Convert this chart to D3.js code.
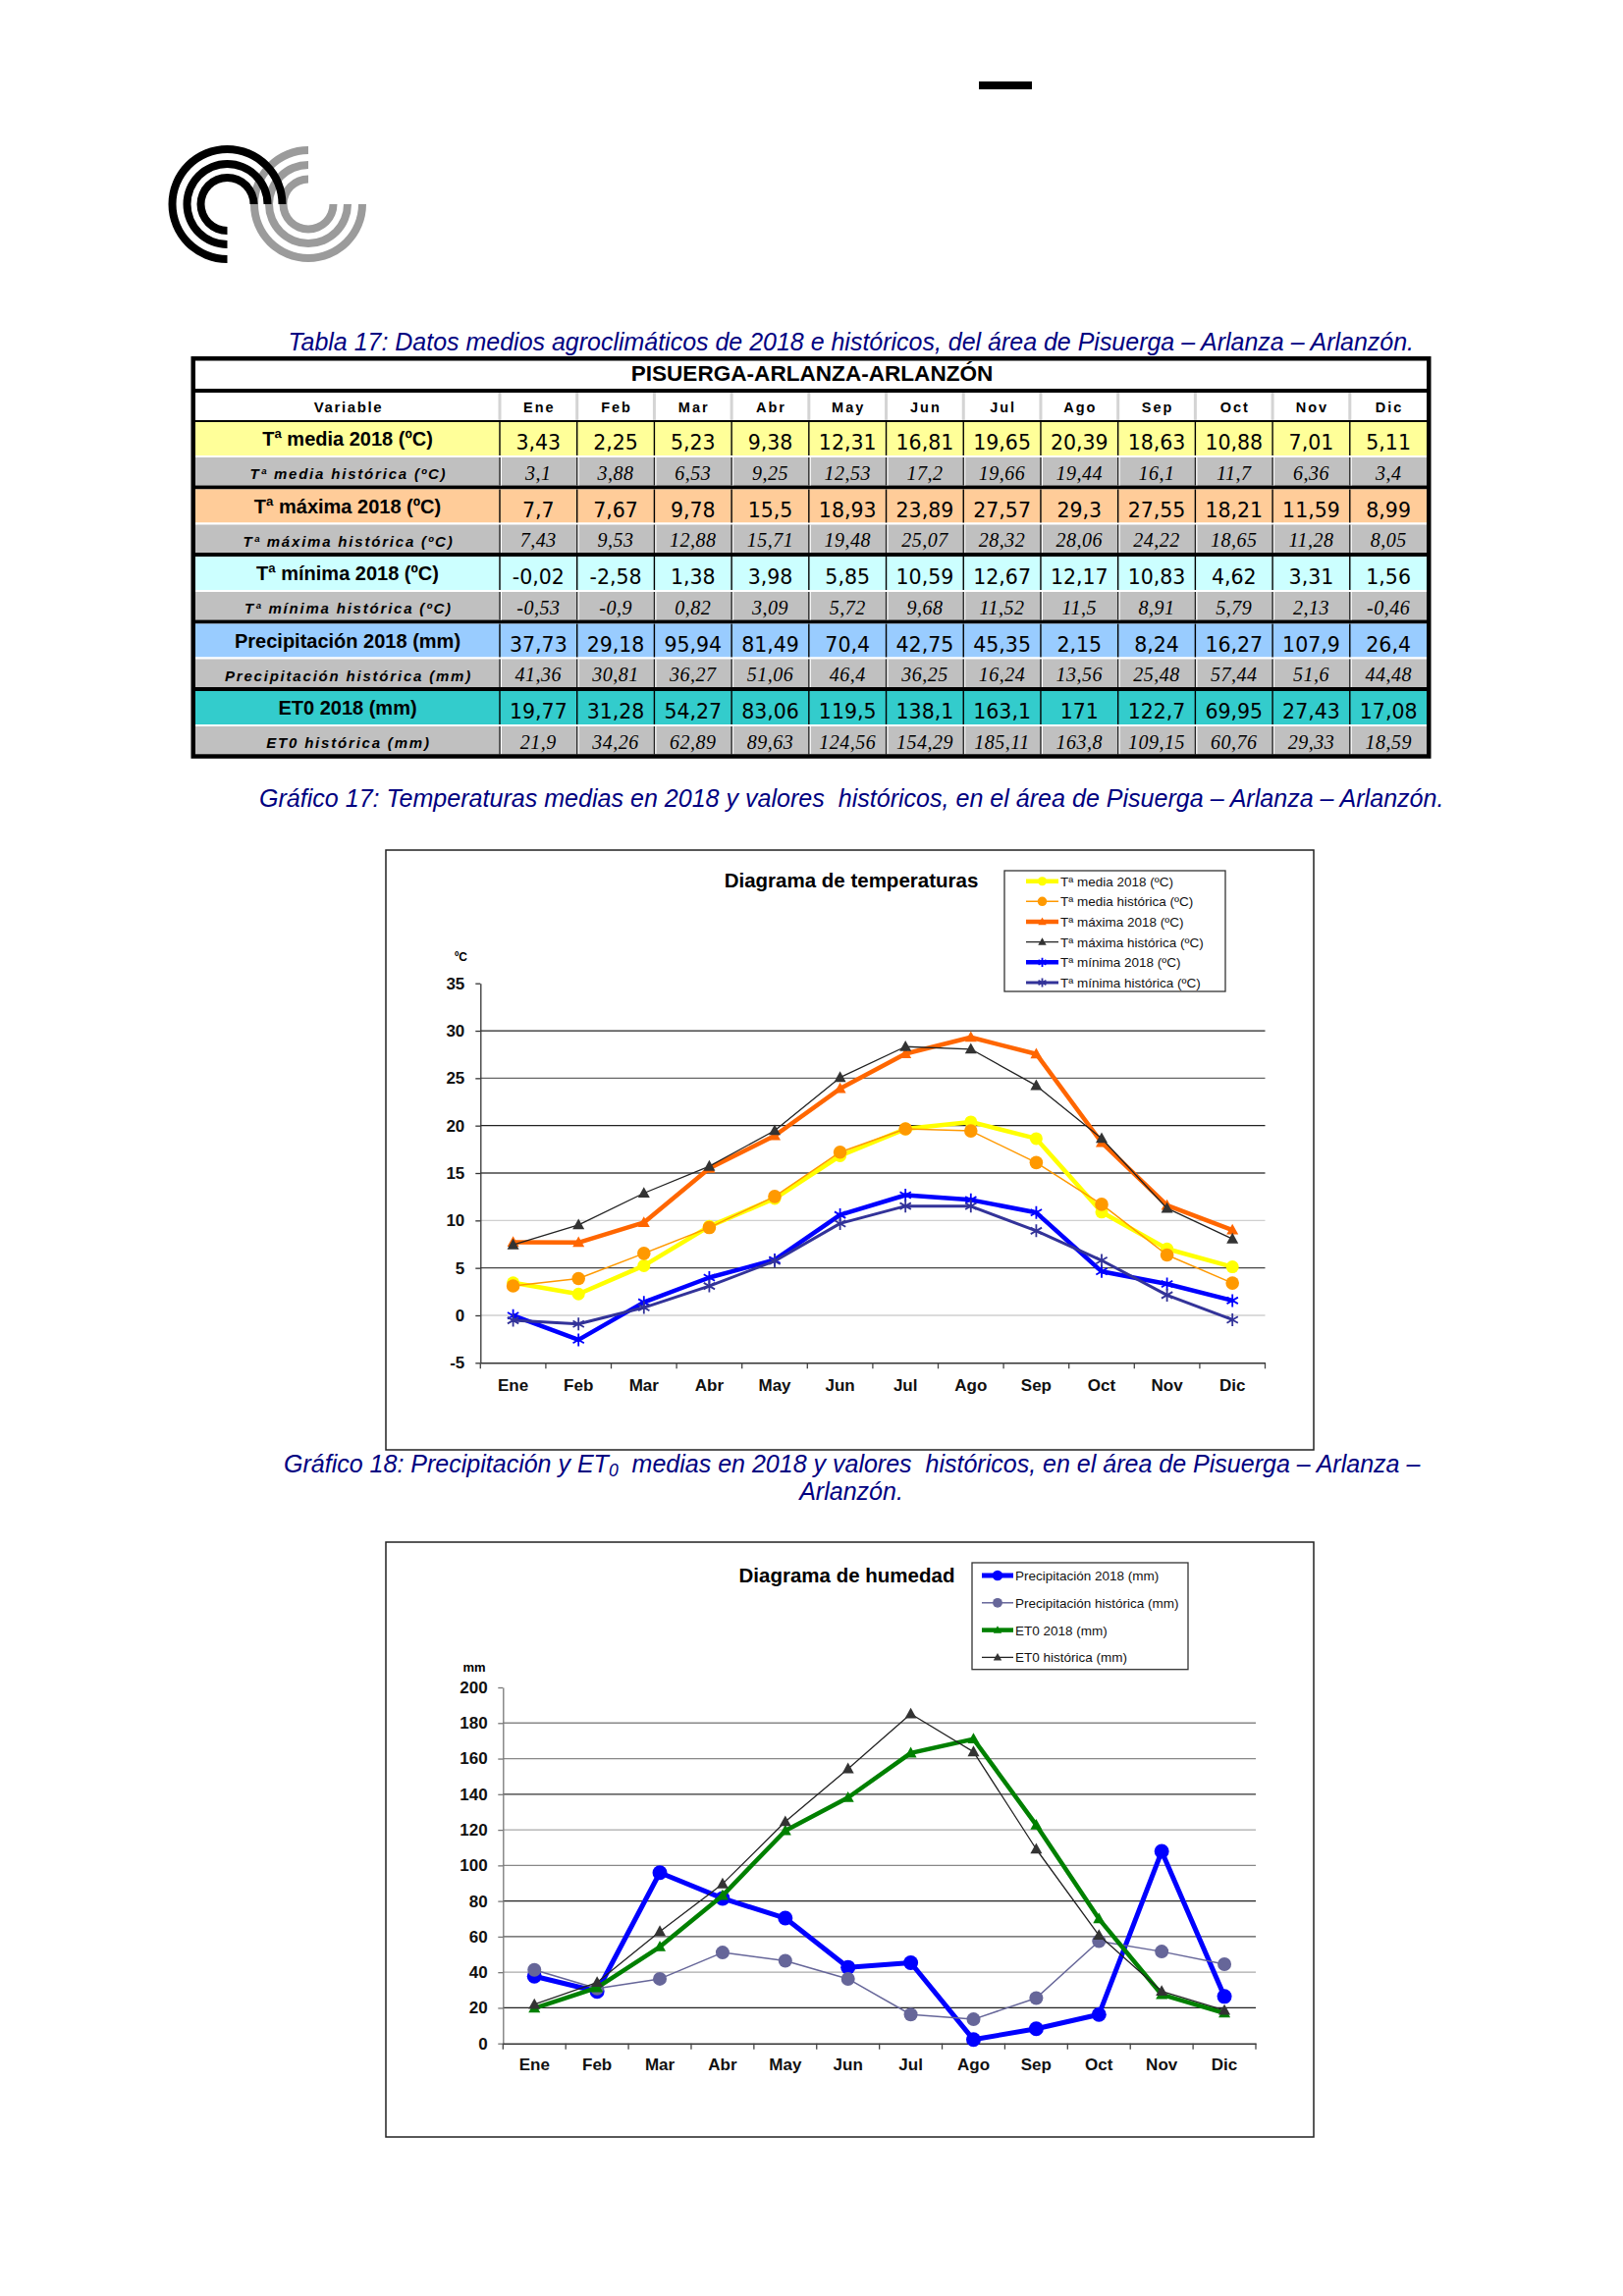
<!DOCTYPE html>
<html><head><meta charset="utf-8">
<script src="https://cdn.jsdelivr.net/npm/d3@7"></script>
<style>body{margin:0;background:#fff} svg{display:block} text{white-space:pre}</style>
</head><body>
<svg id="page" width="1653" height="2339"></svg>
<script>
// ---------- DATA ----------
const months = ["Ene","Feb","Mar","Abr","May","Jun","Jul","Ago","Sep","Oct","Nov","Dic"];
const tMedia2018 = [3.43,2.25,5.23,9.38,12.31,16.81,19.65,20.39,18.63,10.88,7.01,5.11];
const tMediaHist = [3.1,3.88,6.53,9.25,12.53,17.2,19.66,19.44,16.1,11.7,6.36,3.4];
const tMax2018  = [7.7,7.67,9.78,15.5,18.93,23.89,27.57,29.3,27.55,18.21,11.59,8.99];
const tMaxHist  = [7.43,9.53,12.88,15.71,19.48,25.07,28.32,28.06,24.22,18.65,11.28,8.05];
const tMin2018  = [-0.02,-2.58,1.38,3.98,5.85,10.59,12.67,12.17,10.83,4.62,3.31,1.56];
const tMinHist  = [-0.53,-0.9,0.82,3.09,5.72,9.68,11.52,11.5,8.91,5.79,2.13,-0.46];
const prec2018  = [37.73,29.18,95.94,81.49,70.4,42.75,45.35,2.15,8.24,16.27,107.9,26.4];
const precHist  = [41.36,30.81,36.27,51.06,46.4,36.25,16.24,13.56,25.48,57.44,51.6,44.48];
const eto2018   = [19.77,31.28,54.27,83.06,119.5,138.1,163.1,171,122.7,69.95,27.43,17.08];
const etoHist   = [21.9,34.26,62.89,89.63,124.56,154.29,185.11,163.8,109.15,60.76,29.33,18.59];

const labels2018 = ["Tª media 2018 (ºC)","Tª máxima 2018 (ºC)","Tª mínima 2018 (ºC)","Precipitación 2018 (mm)","ET0 2018 (mm)"];
const labelsHist = ["Tª media histórica (ºC)","Tª máxima histórica (ºC)","Tª mínima histórica (ºC)","Precipitación histórica (mm)","ET0 histórica (mm)"];
const tempTicks = [-5,0,5,10,15,20,25,30,35];
const humTicks = [0,20,40,60,80,100,120,140,160,180,200];

const tableTitle = "PISUERGA-ARLANZA-ARLANZÓN";
const caption1 = "Tabla 17: Datos medios agroclimáticos de 2018 e históricos, del área de Pisuerga – Arlanza – Arlanzón.";
const caption2 = "Gráfico 17: Temperaturas medias en 2018 y valores  históricos, en el área de Pisuerga – Arlanza – Arlanzón.";

// ---------- STYLE ----------
const SANS = "'Liberation Sans', Arial, sans-serif";
const NAVY = "#000080";
const rowColors = ["#FFFF99","#FFCC99","#CCFFFF","#99CCFF","#33CCCC"];
const histColor = "#C0C0C0";

const svg = d3.select("#page");

function fit(sel, w){
  const L = sel.node().getComputedTextLength();
  const fs = parseFloat(sel.attr("font-size"));
  sel.attr("font-size", fs * w / L);
}

// ---------- page decorations ----------
svg.append("rect").attr("x",997).attr("y",83).attr("width",54).attr("height",8).attr("fill","#000");

const arcGen = d3.arc();
const logo = svg.append("g");
[55,40,25.5].forEach(r => logo.append("path").attr("transform","translate(314,208)")
  .attr("d", arcGen({innerRadius:r-4, outerRadius:r+4, startAngle:Math.PI/2, endAngle:2*Math.PI}))
  .attr("fill","#9b9b9b"));
[56,41,27].forEach(r => logo.append("path").attr("transform","translate(231.5,208)")
  .attr("d", arcGen({innerRadius:r-4, outerRadius:r+4, startAngle:Math.PI, endAngle:2.5*Math.PI}))
  .attr("fill","#000"));

// ---------- captions ----------
const c1 = svg.append("text").attr("x",293.6).attr("y",356.7).attr("font-family",SANS).attr("font-style","italic")
  .attr("font-size",21).attr("fill",NAVY).text(caption1);
fit(c1, 1147);
const c2 = svg.append("text").attr("x",264).attr("y",822).attr("font-family",SANS).attr("font-style","italic")
  .attr("font-size",21).attr("fill",NAVY).text(caption2);
fit(c2, 1207);
const c3 = svg.append("text").attr("x",289).attr("y",1499.5).attr("font-family",SANS).attr("font-style","italic")
  .attr("font-size",21).attr("fill",NAVY);
c3.append("tspan").text("Gráfico 18: Precipitación y ET");
c3.append("tspan").attr("font-size","70%").attr("dy",4).text("0");
c3.append("tspan").attr("dy",-4).text("  medias en 2018 y valores  históricos, en el área de Pisuerga – Arlanza –");
fit(c3, 1158);
svg.append("text").attr("x",867).attr("y",1527.5).attr("text-anchor","middle").attr("font-family",SANS)
  .attr("font-style","italic").attr("font-size",c3.attr("font-size")).attr("fill",NAVY).text("Arlanzón.");

// ---------- TABLE ----------
const T = svg.append("g");
const xL = 199, xR = 1455, xVar = 509;
const colX = d3.scaleBand().domain(months).range([xVar, 1453.5]);
T.append("rect").attr("x",xL).attr("y",367).attr("width",xR-xL).attr("height",63).attr("fill","#fff");
T.append("rect").attr("x",xL).attr("y",396).attr("width",xR-xL).attr("height",4).attr("fill","#000");
T.append("rect").attr("x",xL).attr("y",428).attr("width",xR-xL).attr("height",2).attr("fill","#000");
const fmt = v => String(v).replace(".", ",");
const series = [[tMedia2018,tMediaHist],[tMax2018,tMaxHist],[tMin2018,tMinHist],[prec2018,precHist],[eto2018,etoHist]];
const GH = 68.5, H1 = 34, GAP = 2, H2 = 28.5;
series.forEach((pair, g) => {
  const y0 = 430 + GH*g;
  T.append("rect").attr("x",xL).attr("y",y0).attr("width",xR-xL).attr("height",H1).attr("fill",rowColors[g]);
  T.append("rect").attr("x",xL).attr("y",y0+H1).attr("width",xR-xL).attr("height",GAP).attr("fill","#fff");
  T.append("rect").attr("x",xL).attr("y",y0+H1+GAP).attr("width",xR-xL).attr("height",H2).attr("fill",histColor);
  if (g < 4) T.append("rect").attr("x",xL).attr("y",y0+H1+GAP+H2).attr("width",xR-xL).attr("height",4).attr("fill","#000");
  const bounds = [xVar, ...months.slice(1).map(m => colX(m))];
  bounds.forEach(bx => {
    T.append("line").attr("x1",bx).attr("x2",bx).attr("y1",y0).attr("y2",y0+H1).attr("stroke","#000").attr("stroke-width",1.4);
    T.append("line").attr("x1",bx).attr("x2",bx).attr("y1",y0+H1+GAP).attr("y2",y0+H1+GAP+H2).attr("stroke","#222").attr("stroke-width",1.3);
    T.append("line").attr("x1",bx+1.5).attr("x2",bx+1.5).attr("y1",y0+H1+GAP).attr("y2",y0+H1+GAP+H2).attr("stroke","#fff").attr("stroke-width",1);
  });
  T.append("text").attr("x",354).attr("y",y0+24).attr("text-anchor","middle").attr("font-family",SANS)
    .attr("font-weight","bold").attr("font-size",20).text(labels2018[g]);
  T.append("text").attr("x",355).attr("y",y0+H1+GAP+22.3).attr("text-anchor","middle").attr("font-family",SANS)
    .attr("font-weight","bold").attr("font-style","italic").attr("letter-spacing",1.8).attr("font-size",15).text(labelsHist[g]);
  pair[0].forEach((v,i) => T.append("text").attr("x",colX(months[i]) + colX.bandwidth()/2).attr("y",y0+28)
    .attr("text-anchor","middle").attr("font-family","'DejaVu Sans', Tahoma, sans-serif").attr("font-size",20.5).text(fmt(v)));
  pair[1].forEach((v,i) => T.append("text").attr("x",colX(months[i]) + colX.bandwidth()/2).attr("y",y0+H1+GAP+22.5)
    .attr("text-anchor","middle").attr("font-family","'Liberation Serif', 'Times New Roman', serif").attr("font-style","italic")
    .attr("letter-spacing",0.5).attr("font-size",20).text(fmt(v)));
});
[xVar, ...months.slice(1).map(m => colX(m))].forEach(bx =>
  T.append("rect").attr("x",bx-1.5).attr("y",400).attr("width",3).attr("height",28).attr("fill","#d4d4d4"));
const tt = T.append("text").attr("x",827).attr("y",388).attr("text-anchor","middle").attr("font-family",SANS)
  .attr("font-weight","bold").attr("font-size",22).text(tableTitle);
fit(tt, 369);
T.append("text").attr("x",355).attr("y",420).attr("text-anchor","middle").attr("font-family",SANS)
  .attr("font-weight","bold").attr("font-size",15).attr("letter-spacing",1.6).text("Variable");
months.forEach(m => T.append("text").attr("x",colX(m)+colX.bandwidth()/2+1).attr("y",420).attr("text-anchor","middle")
  .attr("font-family",SANS).attr("font-weight","bold").attr("font-size",14.5).attr("letter-spacing",2).text(m));
T.append("rect").attr("x",196.75).attr("y",365.25).attr("width",1258.5).attr("height",405.25)
  .attr("fill","none").attr("stroke","#000").attr("stroke-width",4.5);

// ---------- marker helpers ----------
function marker(g, type, cx, cy, size, color){
  if (type === "circle") {
    g.append("circle").attr("cx",cx).attr("cy",cy).attr("r",size).attr("fill",color);
  } else if (type === "triangle") {
    g.append("path").attr("d",`M${cx},${cy-size*1.05}L${cx+size},${cy+size*0.75}L${cx-size},${cy+size*0.75}Z`).attr("fill",color);
  } else if (type === "star") {
    const s = size, a = s*0.87, b = s*0.5;
    g.append("path").attr("d",`M${cx},${cy-s}L${cx},${cy+s}M${cx-a},${cy-b}L${cx+a},${cy+b}M${cx-a},${cy+b}L${cx+a},${cy-b}`)
      .attr("stroke",color).attr("stroke-width",1.8).attr("fill","none");
  }
}

function drawChart(cfg){
  const g = svg.append("g");
  g.append("rect").attr("x",cfg.box[0]).attr("y",cfg.box[1]).attr("width",cfg.box[2]).attr("height",cfg.box[3])
    .attr("fill","#fff").attr("stroke","#222").attr("stroke-width",1.5);
  const x = d3.scaleBand().domain(months).range(cfg.xr);
  const y = d3.scaleLinear().domain(cfg.dom).range(cfg.yr);
  cfg.ticks.filter(t => t > cfg.dom[0] && t < cfg.dom[1]).forEach(t => {
    g.append("line").attr("x1",cfg.xr[0]).attr("x2",cfg.xr[1]).attr("y1",y(t)).attr("y2",y(t))
      .attr("stroke",cfg.gridColor(t)).attr("stroke-width",1.3);
  });
  const ya = g.append("g").attr("transform",`translate(${cfg.xr[0]},0)`)
    .call(d3.axisLeft(y).tickValues(cfg.ticks).tickFormat(d => String(d)).tickSize(5).tickSizeOuter(0).tickPadding(cfg.ypad));
  ya.select(".domain").attr("stroke",cfg.axisColor).attr("stroke-width",1.3);
  ya.selectAll(".tick line").attr("stroke",cfg.axisColor).attr("stroke-width",1.3);
  ya.selectAll("text").attr("font-family",SANS).attr("font-weight","bold").attr("font-size",17).attr("fill","#111");
  const xa = g.append("g").attr("transform",`translate(0,${cfg.yr[0]})`)
    .call(d3.axisBottom(x).tickSize(0).tickPadding(cfg.xpad));
  xa.select(".domain").attr("stroke","#333").attr("stroke-width",1.5);
  xa.selectAll("text").attr("font-family",SANS).attr("font-weight","bold").attr("font-size",17).attr("fill","#111");
  [...months.map(m => x(m)), cfg.xr[1]].forEach(bx =>
    g.append("line").attr("x1",bx).attr("x2",bx).attr("y1",cfg.yr[0]).attr("y2",cfg.yr[0]+6).attr("stroke","#444").attr("stroke-width",1.3));
  g.append("text").attr("x",cfg.unitX).attr("y",cfg.unitY).attr("text-anchor","middle").attr("font-family",SANS)
    .attr("font-weight","bold").attr("font-size",cfg.unitSize).text(cfg.unit);
  g.append("text").attr("x",cfg.titleX).attr("y",cfg.titleY).attr("text-anchor","middle").attr("font-family",SANS)
    .attr("font-weight","bold").attr("font-size",20.5).text(cfg.title);
  const cx = i => x(months[i]) + x.bandwidth()/2;
  cfg.series.forEach(s => {
    const line = d3.line().x((d,i) => cx(i)).y(d => y(d));
    g.append("path").attr("d", line(s.values)).attr("fill","none").attr("stroke",s.color)
      .attr("stroke-width",s.width).attr("stroke-linejoin","round");
    s.values.forEach((v,i) => marker(g, s.marker, cx(i), y(v), s.msize, s.mcolor));
  });
  const L = cfg.legend;
  g.append("rect").attr("x",L.x).attr("y",L.y).attr("width",L.w).attr("height",L.h)
    .attr("fill","#fff").attr("stroke","#333").attr("stroke-width",1.3);
  cfg.series.forEach((s,k) => {
    const ly = L.first + k*L.step;
    g.append("line").attr("x1",L.lx0).attr("x2",L.lx1).attr("y1",ly).attr("y2",ly).attr("stroke",s.color).attr("stroke-width",s.width);
    marker(g, s.marker, (L.lx0+L.lx1)/2, ly, s.msize*0.7, s.mcolor);
    g.append("text").attr("x",L.tx).attr("y",ly+5).attr("font-family",SANS).attr("font-size",13.5).attr("fill","#111").text(s.name);
  });
}

const gridT = {30:"#222",25:"#666",20:"#222",15:"#444",10:"#cfcfcf",5:"#444",0:"#cfcfcf"};
drawChart({
  box:[393,866,945,611], xr:[489.3,1288.5], dom:[-5,35], yr:[1388.3,1001.7], ticks:tempTicks,
  gridColor: t => gridT[t] || "#444", axisColor:"#333", ypad:11, xpad:16.3,
  unit:"ºC", unitX:469.5, unitY:979, unitSize:12,
  title:"Diagrama de temperaturas", titleX:867, titleY:904,
  legend:{x:1023,y:887,w:225,h:123,first:897.7,step:20.66,lx0:1045,lx1:1078,tx:1080},
  series:[
    {name:"Tª media 2018 (ºC)", values:tMedia2018, color:"#FFFF00", width:4.5, marker:"circle", msize:6.5, mcolor:"#FFFF00"},
    {name:"Tª media histórica (ºC)", values:tMediaHist, color:"#FF9900", width:1.5, marker:"circle", msize:6.8, mcolor:"#FF9900"},
    {name:"Tª máxima 2018 (ºC)", values:tMax2018, color:"#FF6600", width:4.5, marker:"triangle", msize:6, mcolor:"#FF6600"},
    {name:"Tª máxima histórica (ºC)", values:tMaxHist, color:"#222", width:1.3, marker:"triangle", msize:6, mcolor:"#333"},
    {name:"Tª mínima 2018 (ºC)", values:tMin2018, color:"#0000FF", width:4.5, marker:"star", msize:6.5, mcolor:"#0000FF"},
    {name:"Tª mínima histórica (ºC)", values:tMinHist, color:"#333399", width:3, marker:"star", msize:6.5, mcolor:"#333399"}
  ]
});

const gridH = {180:"#888",160:"#888",140:"#333",120:"#aaa",100:"#888",80:"#222",60:"#555",40:"#aaa",20:"#222"};
drawChart({
  box:[393,1571,945,606], xr:[512.3,1279], dom:[0,200], yr:[2081.7,1719], ticks:humTicks,
  gridColor: t => gridH[t] || "#888", axisColor:"#777", ypad:10.6, xpad:15.2,
  unit:"mm", unitX:483, unitY:1702.5, unitSize:13,
  title:"Diagrama de humedad", titleX:862.5, titleY:1612,
  legend:{x:990,y:1592,w:220,h:108.7,first:1605,step:27.8,lx0:1000,lx1:1032,tx:1034},
  series:[
    {name:"Precipitación 2018 (mm)", values:prec2018, color:"#0000FF", width:5, marker:"circle", msize:7.5, mcolor:"#0000FF"},
    {name:"Precipitación histórica (mm)", values:precHist, color:"#666699", width:1.5, marker:"circle", msize:7, mcolor:"#666699"},
    {name:"ET0 2018 (mm)", values:eto2018, color:"#008000", width:4.5, marker:"triangle", msize:6, mcolor:"#008000"},
    {name:"ET0 histórica (mm)", values:etoHist, color:"#222", width:1.3, marker:"triangle", msize:6, mcolor:"#333"}
  ]
});
</script>
</body></html>
